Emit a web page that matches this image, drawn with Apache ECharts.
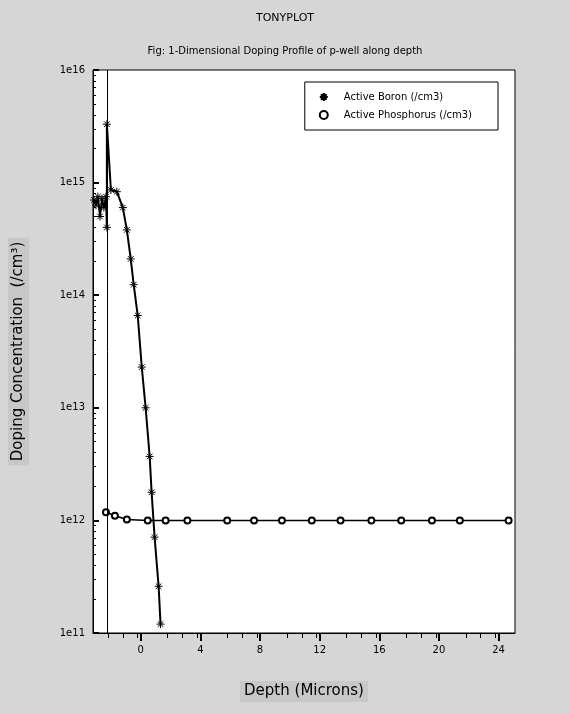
<!DOCTYPE html>
<html><head><meta charset="utf-8">
<script src="https://cdn.jsdelivr.net/npm/echarts@6/dist/echarts.min.js"></script>
<style>body{margin:0;background:#d6d6d6}#c{width:570px;height:714px}</style>
</head><body><div id="c"></div>
<script>
const boronX = [-3.13,-3.0,-2.87,-2.73,-2.6,-2.47,-2.33,-2.27,-2.27,-2.0,-1.6,-1.2,-0.93,-0.67,-0.47,-0.2,0.07,0.33,0.6,0.73,0.93,1.2,1.33];
const boronY = [7e14,6.3e14,7.5e14,5e14,7.2e14,6e14,7.5e14,4e14,3.3e15,8.6e14,8.3e14,6.0e14,3.8e14,2.1e14,1.24e14,6.6e13,2.3e13,1.0e13,3.7e12,1.78e12,7.1e11,2.6e11,1.2e11];
const phosX = [-2.33,-1.73,-0.93,0.47,1.67,3.13,5.8,7.6,9.47,11.47,13.4,15.47,17.47,19.53,21.4,24.67];
const phosY = [1.18e12,1.1e12,1.02e12,1.0e12,1.0e12,1.0e12,1.0e12,1.0e12,1.0e12,1.0e12,1.0e12,1.0e12,1.0e12,1.0e12,1.0e12,1.0e12];
const xTicks = [0,4,8,12,16,20,24];
const yTicks = ['1e11','1e12','1e13','1e14','1e15','1e16'];
const star = 'path://M0,-5L0,5M-5,0L5,0M-3.5,-3.5L3.5,3.5M-3.5,3.5L3.5,-3.5';
const chart = echarts.init(document.getElementById('c'));
chart.setOption({
  backgroundColor:'#d6d6d6',
  animation:false,
  title:[
    {text:'TONYPLOT',left:'center',top:8,textStyle:{fontSize:11,fontWeight:'normal',fontFamily:'DejaVu Sans',color:'#000'}},
    {text:'Fig: 1-Dimensional Doping Profile of p-well along depth',left:'center',top:41,textStyle:{fontSize:10,fontWeight:'normal',fontFamily:'DejaVu Sans',color:'#000'}}
  ],
  legend:{top:82,right:72,orient:'vertical',itemGap:8,backgroundColor:'#fff',borderColor:'#000',borderWidth:1,padding:[10,26,10,14],itemWidth:30,itemHeight:8,
    textStyle:{fontSize:10,fontFamily:'DejaVu Sans',color:'#000'},
    data:[{name:'Active Boron (/cm3)',icon:star},{name:'Active Phosphorus (/cm3)',icon:'emptyCircle'}]},
  grid:{left:92,right:55,top:70,bottom:81,show:true,backgroundColor:'#fff',borderColor:'#000',borderWidth:1},
  xAxis:{type:'value',min:-3.2,max:25.1,interval:4,
    name:'Depth (Microns)',nameLocation:'middle',nameGap:48,
    nameTextStyle:{fontSize:15,fontFamily:'DejaVu Sans',color:'#000',backgroundColor:'#c8c8c8',padding:[3,4]},
    axisLine:{onZero:false,lineStyle:{color:'#000'}},
    axisTick:{length:8,lineStyle:{color:'#000',width:2},customValues:xTicks},
    minorTick:{show:true,splitNumber:4,length:5,lineStyle:{color:'#000'}},
    axisLabel:{fontSize:10,color:'#000',fontFamily:'DejaVu Sans',margin:12,customValues:xTicks},
    splitLine:{show:false}},
  yAxis:{type:'log',logBase:10,min:1e11,max:1e16,
    name:'Doping Concentration  (/cm\u00B3)',nameLocation:'middle',nameGap:64,
    nameTextStyle:{fontSize:15,fontFamily:'DejaVu Sans',color:'#000',backgroundColor:'#c8c8c8',padding:[3,4]},
    axisLine:{onZero:false,lineStyle:{color:'#000'}},
    axisTick:{inside:true,length:6,lineStyle:{color:'#000',width:2}},
    minorTick:{show:true,splitNumber:9,length:3,lineStyle:{color:'#000'}},
    axisLabel:{fontSize:10,color:'#000',fontFamily:'DejaVu Sans',margin:8,formatter:v=>yTicks[Math.round(Math.log10(v))-11]},
    splitLine:{show:false}},
  series:[
    {name:'Active Boron (/cm3)',type:'line',data:boronX.map((x,i)=>[x,boronY[i]]),
      symbol:star,symbolSize:8,itemStyle:{color:'#000',borderColor:'#000',borderWidth:1},lineStyle:{color:'#000',width:2},
      markLine:{silent:true,symbol:'none',label:{show:false},lineStyle:{color:'#000',width:1,type:'solid'},data:[{xAxis:-2.27}]}},
    {name:'Active Phosphorus (/cm3)',type:'line',data:phosX.map((x,i)=>[x,phosY[i]]),
      symbol:'emptyCircle',symbolSize:6,itemStyle:{color:'#000',borderColor:'#000',borderWidth:1.5},lineStyle:{color:'#000',width:1.5}}
  ]
});
</script></body></html>
